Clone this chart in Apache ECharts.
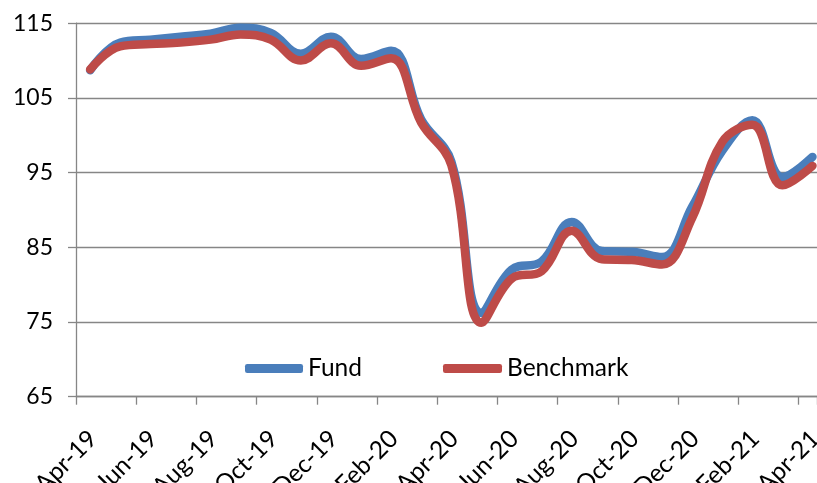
<!DOCTYPE html>
<html><head><meta charset="utf-8">
<script src="https://cdn.jsdelivr.net/npm/echarts@6/dist/echarts.min.js"></script>
<style>html,body{margin:0;padding:0;background:#fff}#c{width:817px;height:483px}</style>
</head><body><div id="c"></div>
<script>
const months = ['Apr-19','May-19','Jun-19','Jul-19','Aug-19','Sep-19','Oct-19','Nov-19','Dec-19','Jan-20','Feb-20','Mar-20','Apr-20','May-20','Jun-20','Jul-20','Aug-20','Sep-20','Oct-20','Nov-20','Dec-20','Jan-21','Feb-21','Mar-21','Apr-21'];
const fund  = [108.7,112.4,112.8,113.2,113.6,114.4,113.7,110.9,113.2,110.2,111.3,102.1,96.5,76.2,82.0,83.1,88.4,84.5,84.4,83.7,90.4,97.9,102.0,94.4,97.1];
const bench = [108.8,111.9,112.2,112.4,112.8,113.5,112.8,110.0,112.3,109.3,110.3,101.7,96.0,74.9,80.8,81.8,87.2,83.4,83.3,82.7,88.9,99.1,101.4,93.3,95.9];
const yTicks = [65,75,85,95,105,115];

const MID = 0.47; // mid-month offset
const toPts = arr => arr.map((v,i)=>[i+MID, v]);
const FONT = 'Lato';
const XMAX = 24.62;
const chart = echarts.init(document.getElementById('c'), null, {renderer:'canvas'});
const labelFmt = v => (Number.isInteger(v) && months[v]) ? months[v] : '';
chart.setOption({
  animation:false,
  grid:[
    {left:76, right:0, top:23.2, bottom:86.3, containLabel:false, outerBoundsMode:'none'},
    {left:93, width:741, top:23.2, bottom:86.3, containLabel:false, outerBoundsMode:'none'}
  ],
  xAxis:[
    {type:'value', gridIndex:0, min:0, max:XMAX, interval:2,
     axisLine:{show:true, lineStyle:{color:'#868686', width:1.3}},
     axisTick:{show:true, length:8, inside:false, lineStyle:{color:'#868686', width:1.3}},
     splitLine:{show:false},
     axisLabel:{show:false}
    },
    {type:'value', gridIndex:1, min:0, max:XMAX, interval:2,
     axisLine:{show:false}, axisTick:{show:false}, splitLine:{show:false},
     axisLabel:{rotate:45, margin:38, color:'#000', fontFamily:FONT, fontSize:24.5,
       showMaxLabel:false, hideOverlap:false, formatter:labelFmt}
    }
  ],
  yAxis:[
    {type:'value', gridIndex:0, min:yTicks[0], max:yTicks[yTicks.length-1], interval:10,
     axisLine:{show:true, lineStyle:{color:'#868686', width:1.3}},
     axisTick:{show:true, length:8, lineStyle:{color:'#868686', width:1.3}},
     splitLine:{show:true, lineStyle:{color:'#868686', width:1.3}},
     axisLabel:{margin:23, color:'#000', fontFamily:FONT, fontSize:23}
    },
    {type:'value', gridIndex:1, min:yTicks[0], max:yTicks[yTicks.length-1], show:false}
  ],
  legend:[
    {data:['Fund'], left:245, top:356, padding:0, icon:'roundRect', itemWidth:58, itemHeight:9, itemGap:0,
     textStyle:{color:'#000', fontFamily:FONT, fontSize:24.5}},
    {data:['Benchmark'], left:443, top:356, padding:0, icon:'roundRect', itemWidth:59, itemHeight:9, itemGap:0,
     textStyle:{color:'#000', fontFamily:FONT, fontSize:24.5}}
  ],
  series:[
    {name:'Fund', type:'line', xAxisIndex:0, yAxisIndex:0, data:toPts(fund), smooth:0.4, symbol:'none', color:'#4A7EBB',
     lineStyle:{width:8.5, color:'#4A7EBB', cap:'round', join:'round'}, z:2},
    {name:'Benchmark', type:'line', xAxisIndex:0, yAxisIndex:0, data:toPts(bench), smooth:0.4, symbol:'none', color:'#BE4B48',
     lineStyle:{width:8.5, color:'#BE4B48', cap:'round', join:'round'}, z:3}
  ]
});
</script></body></html>
